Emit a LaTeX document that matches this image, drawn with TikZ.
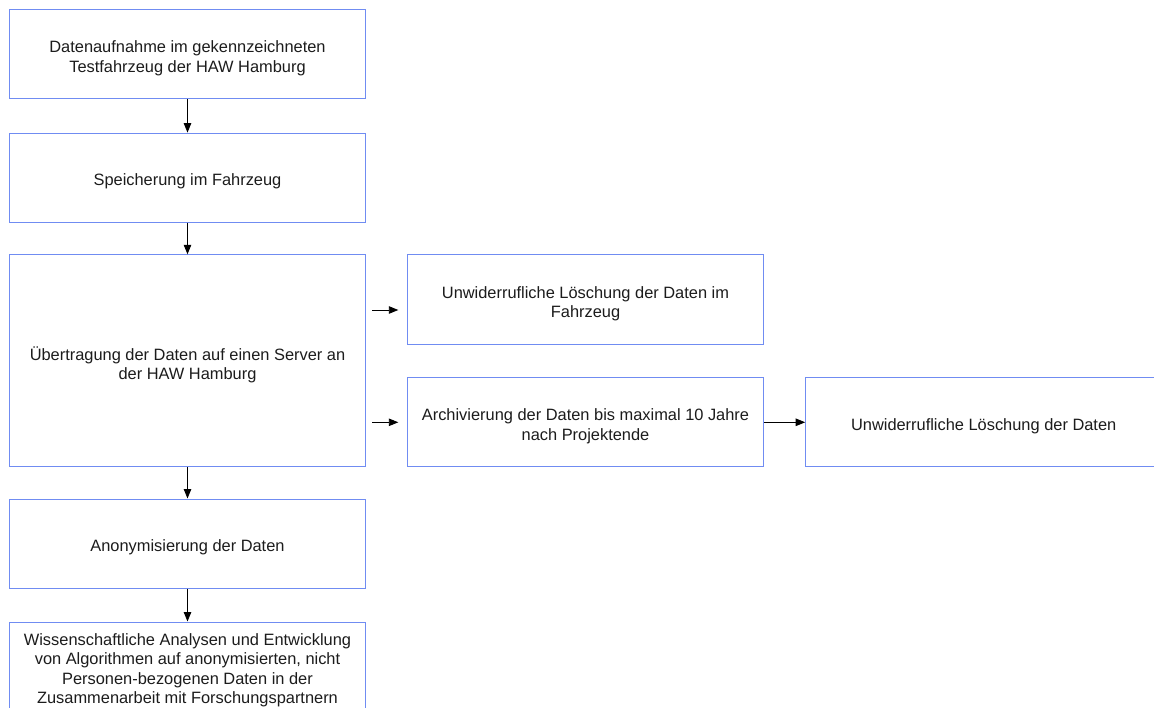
\documentclass[tikz,border=0pt]{standalone}
\usepackage{fontspec}
\setmainfont{Liberation Sans}
\usetikzlibrary{arrows.meta,calc}
\definecolor{boxblue}{RGB}{112,140,242}
\definecolor{txt}{RGB}{28,28,28}
\tikzset{
  procbox/.style={draw=boxblue, line width=1pt, fill=white, minimum width=356pt},
  boxtext/.style={align=center, inner sep=0pt, text=txt, yshift=-4pt,
    font=\fontsize{16.4pt}{19.5pt}\selectfont},
  arr/.style={draw=black, line width=0.9pt, -{Triangle[length=9.5pt,width=7.5pt]}}
}
\begin{document}
\begin{tikzpicture}[x=1pt,y=-1pt]
\useasboundingbox (0,0) rectangle (1154,708);
\clip (0,0) rectangle (1154,708);
\node[procbox, minimum height=89pt, label={[boxtext]center:{Datenaufnahme im gekennzeichneten\\Testfahrzeug der HAW Hamburg}}] (b1) at (187.5,54.5) {};
\node[procbox, minimum height=89pt, label={[boxtext]center:{Speicherung im Fahrzeug}}] (b2) at (187.5,177.6) {};
\node[procbox, minimum height=212pt, label={[boxtext]center:{Übertragung der Daten auf einen Server an\\der HAW Hamburg}}] (b3) at (187.5,360.8) {};
\node[procbox, minimum height=90pt, label={[boxtext]center:{Unwiderrufliche Löschung der Daten im\\Fahrzeug}}] (b4) at (585.5,299.7) {};
\node[procbox, minimum height=89.3pt, label={[boxtext]center:{Archivierung der Daten bis maximal 10 Jahre\\nach Projektende}}] (b5) at (585.5,422.3) {};
\node[procbox, minimum height=89.3pt, label={[boxtext]center:{Unwiderrufliche Löschung der Daten}}] (b6) at (983.7,422.3) {};
\node[procbox, minimum height=89pt, label={[boxtext]center:{Anonymisierung der Daten}}] (b7) at (187.5,543.5) {};
\node[procbox, minimum height=89pt, label={[boxtext]center:{Wissenschaftliche Analysen und Entwicklung\\von Algorithmen auf anonymisierten, nicht\\Personen-bezogenen Daten in der\\Zusammenarbeit mit Forschungspartnern}}] (b8) at (187.5,666.5) {};
\draw[arr] (b1) -- (b2);
\draw[arr] (b2) -- (b3);
\draw[arr] (b3) -- (b7);
\draw[arr] (b7) -- (b8);
\draw[arr, shorten <=6.3pt, shorten >=8.7pt] ([yshift=-10.3pt]b4.west -| b3.east) -- ([yshift=-10.3pt]b4.west);
\draw[arr, shorten <=6.3pt, shorten >=8.7pt] (b5.west -| b3.east) -- (b5.west);
\draw[arr] (b5) -- (b6);
\end{tikzpicture}
\end{document}
